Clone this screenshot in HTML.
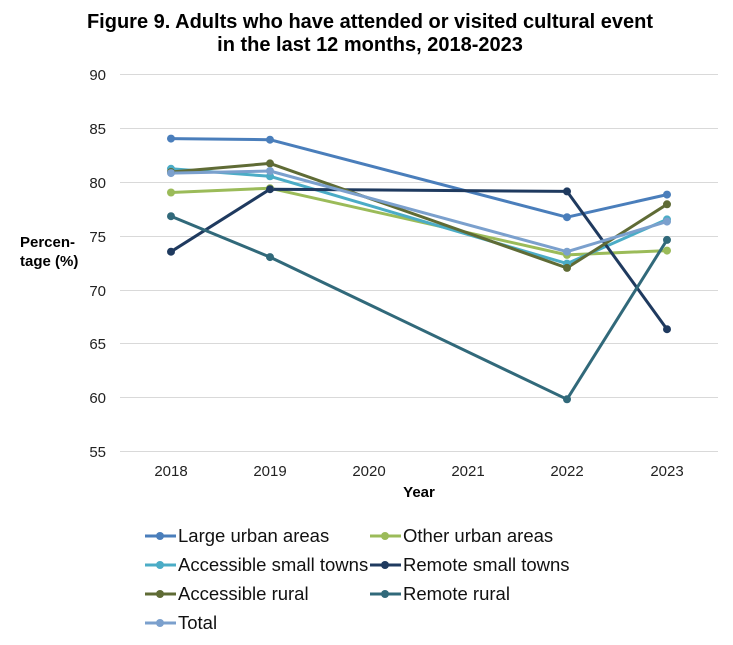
<!DOCTYPE html>
<html><head><meta charset="utf-8"><style>body{margin:0;background:#fff}svg{display:block}</style></head>
<body>
<svg width="733" height="645" xmlns="http://www.w3.org/2000/svg" font-family="Liberation Sans, sans-serif">
<text x="370" y="28" text-anchor="middle" font-size="20" font-weight="bold">Figure 9. Adults who have attended or visited cultural event</text>
<text x="370" y="51" text-anchor="middle" font-size="20" font-weight="bold">in the last 12 months, 2018-2023</text>
<g stroke="#d9d9d9" stroke-width="1">
<line x1="120" x2="718" y1="74.5" y2="74.5"/><line x1="120" x2="718" y1="128.5" y2="128.5"/>
<line x1="120" x2="718" y1="182.5" y2="182.5"/><line x1="120" x2="718" y1="236.5" y2="236.5"/>
<line x1="120" x2="718" y1="290.5" y2="290.5"/><line x1="120" x2="718" y1="343.5" y2="343.5"/>
<line x1="120" x2="718" y1="397.5" y2="397.5"/><line x1="120" x2="718" y1="451.5" y2="451.5"/>
</g>
<g font-size="15" text-anchor="end" fill="#222">
<text x="106" y="80">90</text><text x="106" y="134">85</text><text x="106" y="188">80</text>
<text x="106" y="242">75</text><text x="106" y="296">70</text><text x="106" y="349">65</text>
<text x="106" y="403">60</text><text x="106" y="457">55</text>
</g>
<text x="20" y="247" font-size="15" font-weight="bold">Percen-</text>
<text x="20" y="266" font-size="15" font-weight="bold">tage (%)</text>
<g font-size="15" text-anchor="middle" fill="#222">
<text x="171" y="476">2018</text><text x="270" y="476">2019</text><text x="369" y="476">2020</text>
<text x="468" y="476">2021</text><text x="567" y="476">2022</text><text x="667" y="476">2023</text>
</g>
<text x="419" y="497" font-size="15" font-weight="bold" text-anchor="middle">Year</text>
<g fill="none" stroke-width="3" stroke-linejoin="round">
<polyline stroke="#4a7ebb" points="171,138.6 270,139.7 567,217.2 667,194.6"/>
<polyline stroke="#9bbb59" points="171,192.5 270,188.2 567,254.9 667,250.6"/>
<polyline stroke="#4bacc6" points="171,168.8 270,176.3 567,263.6 667,219.4"/>
<polyline stroke="#1f3a5f" points="171,251.7 270,189.2 567,191.4 667,329.2"/>
<polyline stroke="#5f6b35" points="171,172 270,163.4 567,267.9 667,204.3"/>
<polyline stroke="#31697a" points="171,216.2 270,257.1 567,399.3 667,239.9"/>
<polyline stroke="#7ba0cd" points="171,173.1 270,171 567,251.7 667,221.6"/>
</g>
<g>
<g fill="#4a7ebb"><circle cx="171" cy="138.6" r="4"/><circle cx="270" cy="139.7" r="4"/><circle cx="567" cy="217.2" r="4"/><circle cx="667" cy="194.6" r="4"/></g>
<g fill="#9bbb59"><circle cx="171" cy="192.5" r="4"/><circle cx="270" cy="188.2" r="4"/><circle cx="567" cy="254.9" r="4"/><circle cx="667" cy="250.6" r="4"/></g>
<g fill="#4bacc6"><circle cx="171" cy="168.8" r="4"/><circle cx="270" cy="176.3" r="4"/><circle cx="567" cy="263.6" r="4"/><circle cx="667" cy="219.4" r="4"/></g>
<g fill="#1f3a5f"><circle cx="171" cy="251.7" r="4"/><circle cx="270" cy="189.2" r="4"/><circle cx="567" cy="191.4" r="4"/><circle cx="667" cy="329.2" r="4"/></g>
<g fill="#5f6b35"><circle cx="171" cy="172" r="4"/><circle cx="270" cy="163.4" r="4"/><circle cx="567" cy="267.9" r="4"/><circle cx="667" cy="204.3" r="4"/></g>
<g fill="#31697a"><circle cx="171" cy="216.2" r="4"/><circle cx="270" cy="257.1" r="4"/><circle cx="567" cy="399.3" r="4"/><circle cx="667" cy="239.9" r="4"/></g>
<g fill="#7ba0cd"><circle cx="171" cy="173.1" r="4"/><circle cx="270" cy="171" r="4"/><circle cx="567" cy="251.7" r="4"/><circle cx="667" cy="221.6" r="4"/></g>
</g>
<g stroke-width="3" font-size="18.5" fill="#111">
<line x1="145" x2="176" y1="536" y2="536" stroke="#4a7ebb"/><circle cx="160" cy="536" r="4" fill="#4a7ebb"/><text x="178" y="542">Large urban areas</text>
<line x1="370" x2="401" y1="536" y2="536" stroke="#9bbb59"/><circle cx="385" cy="536" r="4" fill="#9bbb59"/><text x="403" y="542">Other urban areas</text>
<line x1="145" x2="176" y1="565" y2="565" stroke="#4bacc6"/><circle cx="160" cy="565" r="4" fill="#4bacc6"/><text x="178" y="571">Accessible small towns</text>
<line x1="370" x2="401" y1="565" y2="565" stroke="#1f3a5f"/><circle cx="385" cy="565" r="4" fill="#1f3a5f"/><text x="403" y="571">Remote small towns</text>
<line x1="145" x2="176" y1="594" y2="594" stroke="#5f6b35"/><circle cx="160" cy="594" r="4" fill="#5f6b35"/><text x="178" y="600">Accessible rural</text>
<line x1="370" x2="401" y1="594" y2="594" stroke="#31697a"/><circle cx="385" cy="594" r="4" fill="#31697a"/><text x="403" y="600">Remote rural</text>
<line x1="145" x2="176" y1="623" y2="623" stroke="#7ba0cd"/><circle cx="160" cy="623" r="4" fill="#7ba0cd"/><text x="178" y="629">Total</text>
</g>
</svg>
</body></html>
